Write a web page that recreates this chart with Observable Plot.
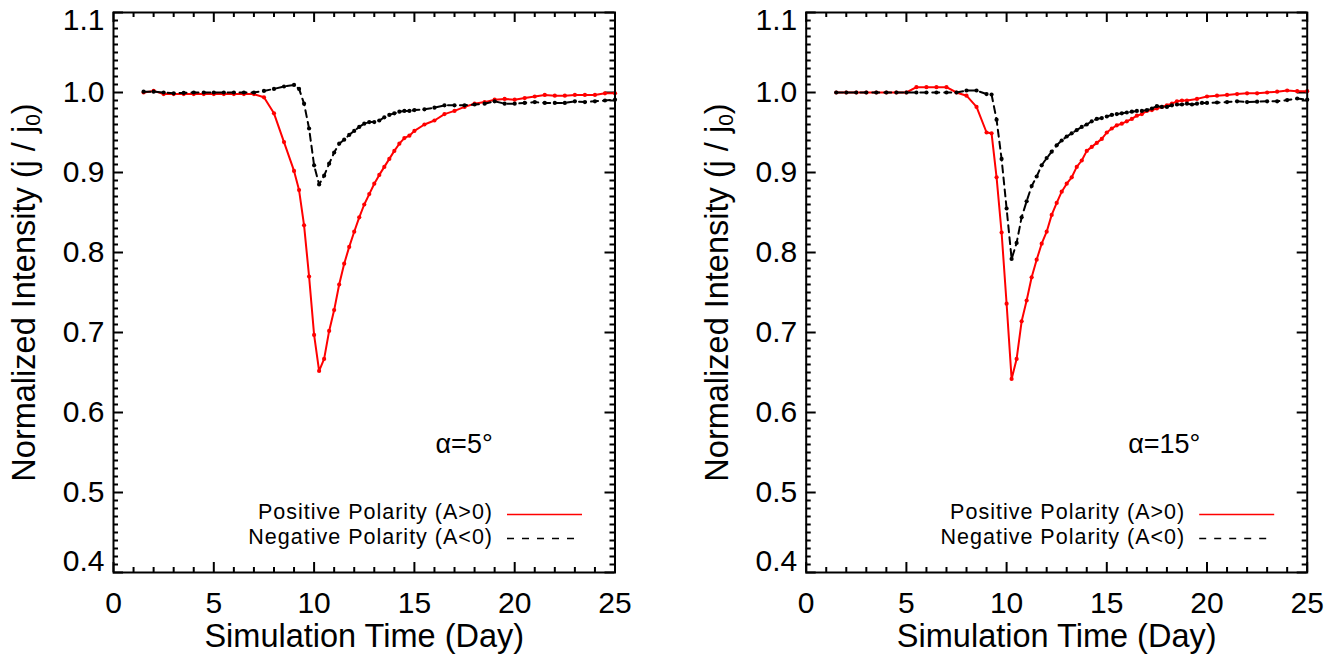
<!DOCTYPE html>
<html><head><meta charset="utf-8">
<script src="https://cdn.jsdelivr.net/npm/d3@7"></script>
<script src="https://cdn.jsdelivr.net/npm/@observablehq/plot@0.6"></script>
<style>
html,body{margin:0;padding:0;background:#fff;overflow:hidden}
#wrap{display:flex;width:1336px;height:658px}
#wrap svg{display:block;flex:none}
</style></head><body><div id="wrap"></div>
<script>
// ---- tick labels / categories ----
const xTicks = [0, 5, 10, 15, 20, 25];
const xMinorTicks = [1,2,3,4,6,7,8,9,11,12,13,14,16,17,18,19,21,22,23,24];
const yTicks = [0.4, 0.5, 0.6, 0.7, 0.8, 0.9, 1.0, 1.1];
const yMinorTicks = d3.range(41, 110).filter(v => v % 10 !== 0).map(v => v / 100);
const seriesLabels = ["Positive Polarity (A>0)", "Negative Polarity (A<0)"];
const panelLabels = ["\u03b1=5\u00b0", "\u03b1=15\u00b0"];
const xTitle = "Simulation Time (Day)";
const yTitle = "Normalized Intensity (j / j0)";

// ---- left panel (alpha = 5 deg) ----
const leftDays = [1.5,2,2.5,3,3.5,4,4.5,5,5.5,6,6.5,7,7.5,8,8.5,9,
  9.25,9.5,9.75,10,10.25,10.5,10.75,11,11.25,11.5,11.75,12,12.25,12.5,12.75,13,13.25,13.5,13.75,14,14.25,14.5,14.75,15,
  15.5,16,16.5,17,17.5,18,18.5,19,19.5,20,20.5,21,21.5,22,22.5,23,23.5,24,24.5,25];
const leftPositive = [1.000,1.002,0.998,0.998,0.998,0.998,0.998,0.998,0.998,0.998,0.998,0.998,0.994,0.974,0.938,0.902,
  0.878,0.834,0.770,0.697,0.652,0.667,0.702,0.728,0.760,0.786,0.807,0.826,0.844,0.860,0.873,0.886,0.897,0.907,0.917,0.927,0.936,0.943,0.946,0.952,
  0.960,0.965,0.973,0.977,0.982,0.986,0.988,0.991,0.992,0.991,0.993,0.995,0.997,0.996,0.996,0.997,0.997,0.997,0.999,0.999];
const leftNegative = [1.001,1.001,1.000,0.999,0.9995,1.000,1.000,1.000,1.000,1.000,1.000,1.000,1.002,1.0045,1.0075,1.0095,
  1.0045,0.986,0.955,0.909,0.885,0.896,0.911,0.925,0.936,0.941,0.947,0.952,0.957,0.961,0.963,0.963,0.965,0.969,0.972,0.974,0.976,0.977,0.977,0.978,
  0.979,0.981,0.984,0.984,0.984,0.985,0.986,0.989,0.986,0.986,0.987,0.988,0.987,0.987,0.987,0.989,0.988,0.989,0.990,0.991];

// ---- right panel (alpha = 15 deg) ----
const rightPositiveDays = [1.5,2,2.5,3,3.5,4,4.5,5,5.5,6,6.5,7,7.5,8,8.5,9,
  9.25,9.5,9.75,10,10.25,10.5,10.75,11,11.25,11.5,11.75,12,12.25,12.5,12.75,13,13.25,13.5,13.75,14,14.25,14.5,14.75,15,
  15.25,15.5,15.75,16,16.25,16.5,16.75,17,17.25,17.5,17.75,18,18.25,18.5,18.75,19,
  19.5,20,20.5,21,21.5,22,22.5,23,23.5,24,24.5,25];
const rightPositive = [1.000,1.000,1.000,1.000,1.000,1.000,1.000,1.000,1.0067,1.0067,1.0067,1.0067,1.000,0.996,0.982,0.950,
  0.949,0.894,0.825,0.736,0.642,0.667,0.714,0.740,0.769,0.791,0.811,0.826,0.847,0.862,0.876,0.886,0.894,0.907,0.915,0.927,0.932,0.937,0.942,0.950,
  0.955,0.959,0.961,0.964,0.967,0.971,0.973,0.977,0.978,0.980,0.982,0.984,0.986,0.989,0.990,0.990,
  0.992,0.995,0.996,0.997,0.998,0.999,0.999,1.000,1.001,1.0025,1.0017,1.0017];
const rightNegativeDays = [1.5,2,2.5,3,3.5,4,4.5,5,5.5,6,6.5,7,7.5,8,8.5,9,
  9.25,9.5,9.75,10,10.25,10.5,10.75,11,11.25,11.5,11.75,12,12.25,12.5,12.75,13,13.25,13.5,13.75,14,14.25,14.5,14.75,15,
  15.25,15.5,15.75,16,16.25,16.5,16.75,17,17.25,17.5,17.75,18,18.25,18.5,18.75,19,19.25,19.5,19.75,20,
  20.5,21,21.5,22,22.5,23,23.5,24,24.5,25];
const rightNegative = [1.000,1.000,1.000,1.000,1.000,1.000,1.000,1.000,1.000,1.000,1.000,1.000,1.000,1.0025,1.0025,0.998,
  0.9975,0.966,0.917,0.855,0.792,0.812,0.844,0.864,0.883,0.895,0.909,0.918,0.926,0.934,0.940,0.945,0.949,0.953,0.957,0.960,0.964,0.967,0.968,0.970,
  0.972,0.973,0.974,0.975,0.976,0.977,0.977,0.978,0.980,0.983,0.982,0.982,0.984,0.985,0.985,0.986,0.985,0.986,0.987,0.987,
  0.9875,0.988,0.989,0.988,0.9885,0.989,0.989,0.9905,0.9925,0.991];

const toRows = (days, vals) => days.map((d, i) => ({day: d, value: vals[i]}));

const W_SVG = 668, H_SVG = 658, MT = 12, MB = 86;
const FONT = "'Liberation Sans', Arial, Helvetica, sans-serif";

function panel({ml, mr, pos, neg, label}) {
  const W = W_SVG - ml - mr, H = H_SVG - MT - MB;
  const MAJ = 10, MIN = 5;
  const svg = Plot.plot({
    width: W_SVG, height: H_SVG,
    marginLeft: ml, marginRight: mr, marginTop: MT, marginBottom: MB,
    style: {fontFamily: FONT, fontSize: "30px", background: "white", color: "black"},
    x: {domain: [0, 25], ticks: xTicks, tickSize: 0, tickPadding: 19, tickFormat: d3.format("d"), label: null},
    y: {domain: [0.4, 1.1], ticks: yTicks, tickSize: 0, tickPadding: 9, tickFormat: d3.format(".1f"), label: null},
    marks: [
      // inward ticks on all four sides
      Plot.ruleX(xTicks, {x: d => d, insetTop: H - MAJ, strokeWidth: 2}),
      Plot.ruleX(xMinorTicks, {x: d => d, insetTop: H - MIN, strokeWidth: 2}),
      Plot.ruleX(xTicks, {x: d => d, insetBottom: H - MAJ, strokeWidth: 2}),
      Plot.ruleX(xMinorTicks, {x: d => d, insetBottom: H - MIN, strokeWidth: 2}),
      Plot.ruleY(yTicks, {y: d => d, insetRight: W - MAJ, strokeWidth: 2}),
      Plot.ruleY(yMinorTicks, {y: d => d, insetRight: W - MIN, strokeWidth: 2}),
      Plot.ruleY(yTicks, {y: d => d, insetLeft: W - MAJ, strokeWidth: 2}),
      Plot.ruleY(yMinorTicks, {y: d => d, insetLeft: W - MIN, strokeWidth: 2}),
      // data
      Plot.line(pos, {x: "day", y: "value", stroke: "#ff0000", strokeWidth: 2}),
      Plot.dot(pos, {x: "day", y: "value", r: 2.1, fill: "#ff0000"}),
      Plot.line(neg, {x: "day", y: "value", stroke: "#000", strokeWidth: 2, strokeDasharray: "7,5"}),
      Plot.dot(neg, {x: "day", y: "value", r: 2.1, fill: "#000"}),
      Plot.frame({stroke: "#000", strokeWidth: 2}),
      // texts
      Plot.text([xTitle], {text: d => d, frameAnchor: "bottom", textAnchor: "middle", lineAnchor: "bottom", dy: 74, fontSize: 32.5}),
      Plot.text([yTitle], {text: d => d, frameAnchor: "left", textAnchor: "middle", lineAnchor: "middle", rotate: -90, dx: -89, fontSize: 32.5}),
      Plot.text([label], {text: d => d, frameAnchor: "top-left", textAnchor: "start", lineAnchor: "bottom", dx: 322, dy: 440, fontSize: 27}),
      Plot.text([seriesLabels[0]], {text: d => d, frameAnchor: "bottom-right", textAnchor: "end", lineAnchor: "bottom", dx: -122, dy: -53.5, fontSize: 21.5}),
      Plot.text([seriesLabels[1]], {text: d => d, frameAnchor: "bottom-right", textAnchor: "end", lineAnchor: "bottom", dx: -122, dy: -28.5, fontSize: 21.5})
    ]
  });
  const s = d3.select(svg);
  // subscript 0 in y title
  s.selectAll("text").filter(function() { return this.textContent === yTitle; }).each(function() {
    const t = d3.select(this);
    t.text(null);
    t.append("tspan").text("Normalized Intensity (j / j");
    t.append("tspan").attr("font-size", "21px").attr("dy", "5").text("0");
    t.append("tspan").attr("dy", "-5").text(")");
  });
  // legend text tracking (wider Helvetica-like setting)
  s.selectAll("text").filter(function() { return seriesLabels.includes(this.textContent); }).attr("letter-spacing", "1");
  // keep the end tick labels inside the axis range, as in the reference
  s.selectAll("text").filter(function() { return this.textContent === "1.1"; }).attr("dy", 8);
  s.selectAll("text").filter(function() { return this.textContent === "0.4"; }).attr("dy", -11);
  // legend swatches
  const fr = W_SVG - mr, fb = H_SVG - MB;
  const g = s.append("g");
  g.append("line").attr("x1", fr - 107.5).attr("x2", fr - 32.5).attr("y1", fb - 57.5).attr("y2", fb - 57.5)
    .attr("stroke", "#ff0000").attr("stroke-width", 1.6);
  g.append("line").attr("x1", fr - 107.5).attr("x2", fr - 32.5).attr("y1", fb - 33.5).attr("y2", fb - 33.5)
    .attr("stroke", "#000").attr("stroke-width", 1.6).attr("stroke-dasharray", "7,8");
  return svg;
}

const wrap = document.getElementById("wrap");
wrap.append(panel({ml: 113, mr: 53.5, pos: toRows(leftDays, leftPositive), neg: toRows(leftDays, leftNegative), label: panelLabels[0]}));
wrap.append(panel({ml: 137.7, mr: 29.3, pos: toRows(rightPositiveDays, rightPositive), neg: toRows(rightNegativeDays, rightNegative), label: panelLabels[1]}));
</script>
</body></html>
